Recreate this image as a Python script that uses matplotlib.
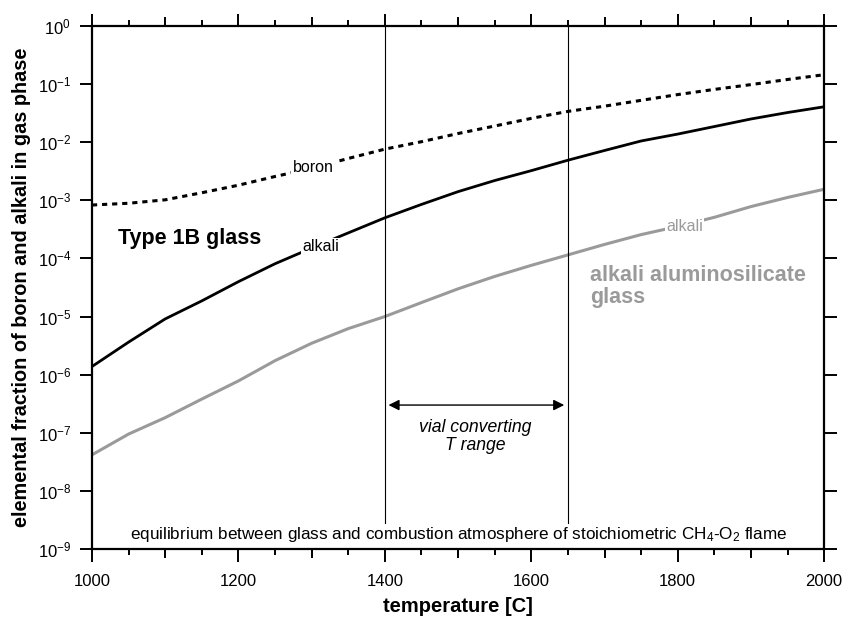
import numpy as np
import matplotlib
matplotlib.use("Agg")
import matplotlib.pyplot as plt
from matplotlib.ticker import MultipleLocator, NullLocator, LogLocator

plt.rcParams["font.family"] = ["Liberation Sans", "DejaVu Sans"]
plt.rcParams["mathtext.fontset"] = "custom"
plt.rcParams["mathtext.rm"] = "Liberation Sans"
plt.rcParams["mathtext.it"] = "Liberation Sans:italic"
plt.rcParams["mathtext.bf"] = "Liberation Sans:bold"

# temperature [C]
temperature = [1000, 1050, 1100, 1150, 1200, 1250, 1300, 1350, 1400, 1450, 1500,
               1550, 1600, 1650, 1700, 1750, 1800, 1850, 1900, 1950, 2000]

# Type 1B glass
boron_1b = [8.3e-4, 8.9e-4, 1.02e-3, 1.35e-3, 1.82e-3, 2.57e-3, 3.55e-3, 5.25e-3,
            7.6e-3, 1.02e-2, 1.41e-2, 1.9e-2, 2.57e-2, 3.39e-2, 4.17e-2, 5.25e-2,
            6.6e-2, 8.1e-2, 9.8e-2, 1.2e-1, 1.45e-1]
alkali_1b = [1.38e-6, 3.63e-6, 9.1e-6, 1.86e-5, 3.98e-5, 8.1e-5, 1.51e-4, 2.75e-4,
             5.0e-4, 8.5e-4, 1.41e-3, 2.19e-3, 3.24e-3, 4.9e-3, 7.2e-3, 1.05e-2,
             1.38e-2, 1.86e-2, 2.51e-2, 3.24e-2, 4.07e-2]

# alkali aluminosilicate glass
alkali_aas = [4.17e-8, 9.5e-8, 1.82e-7, 3.8e-7, 7.8e-7, 1.74e-6, 3.47e-6, 6.2e-6,
              1.0e-5, 1.74e-5, 3.0e-5, 4.9e-5, 7.6e-5, 1.15e-4, 1.74e-4, 2.57e-4,
              3.55e-4, 5.1e-4, 7.8e-4, 1.12e-3, 1.55e-3]

# vial converting range
t_range = [1400, 1650]

GRAY = "#9a9a9a"

fig = plt.figure(figsize=(8.46, 6.17), dpi=100)
ax = fig.add_axes([0.1087, 0.1102, 0.8655, 0.8477])

ax.plot(temperature, boron_1b, color="black", lw=2.2, ls=(0, (1.7, 1.6)))
ax.plot(temperature, alkali_1b, color="black", lw=2.0)
ax.plot(temperature, alkali_aas, color=GRAY, lw=2.2)

for t in t_range:
    ax.plot([t, t], [2.8e-9, 1], color="black", lw=0.8)

ax.set_yscale("log")
ax.set_xlim(1000, 2000)
ax.set_ylim(1e-9, 1)

# line labels, white box cuts the curve
box = dict(facecolor="white", edgecolor="none", pad=1.0)
ax.text(1302, 3.7e-3, "boron", fontsize=11.5, ha="center", va="center", bbox=box)
ax.text(1313, 1.6e-4, "alkali", fontsize=11.5, ha="center", va="center", bbox=box)
ax.text(1809, 3.5e-4, "alkali", fontsize=11.5, ha="center", va="center",
        color=GRAY, bbox=box)

ax.text(1035, 2.2e-4, "Type 1B glass", fontsize=15.5, fontweight="bold",
        ha="left", va="center")
ax.text(1680, 3.3e-5, "alkali aluminosilicate\nglass", fontsize=15.5,
        fontweight="bold", color=GRAY, ha="left", va="center", linespacing=1.05)

ax.annotate("", xy=(1405, 3e-7), xytext=(1645, 3e-7),
            arrowprops=dict(arrowstyle="<|-|>", color="black", lw=1.0,
                            mutation_scale=16, shrinkA=0, shrinkB=0))
ax.text(1523, 8.7e-8, "vial converting\nT range", fontsize=12.7, style="italic",
        ha="center", va="center", linespacing=1.1)

ax.text(1501, 1.75e-9,
        "equilibrium between glass and combustion atmosphere of stoichiometric "
        "CH$_4$-O$_2$ flame", fontsize=12.3, ha="center", va="center")

ax.set_xlabel("temperature [C]", fontsize=14.5, fontweight="bold", labelpad=6)
ax.set_ylabel("elemental fraction of boron and alkali in gas phase",
              fontsize=14.3, fontweight="bold", labelpad=5)

ax.xaxis.set_major_locator(MultipleLocator(200))
ax.xaxis.set_minor_locator(MultipleLocator(50))
ax.yaxis.set_major_locator(LogLocator(base=10, numticks=20))
ax.yaxis.set_minor_locator(NullLocator())

for s in ax.spines.values():
    s.set_linewidth(1.6)

ax.tick_params(which="both", direction="out", top=True, right=True,
               width=1.4, labelsize=12)
ax.tick_params(which="major", length=9, pad=6)
ax.tick_params(which="minor", length=4)
ax.tick_params(axis="x", which="major", pad=9)

# medium ticks every 100 C
mid = [1100, 1300, 1500, 1700, 1900]
for side in ["bottom", "top"]:
    sec = ax.secondary_xaxis(side)
    sec.set_xticks(mid)
    sec.tick_params(direction="out", length=6.5, width=1.4,
                    labelbottom=False, labeltop=False)
    sec.xaxis.set_minor_locator(NullLocator())
    for s in sec.spines.values():
        s.set_visible(False)

fig.savefig("out.png", dpi=100)
